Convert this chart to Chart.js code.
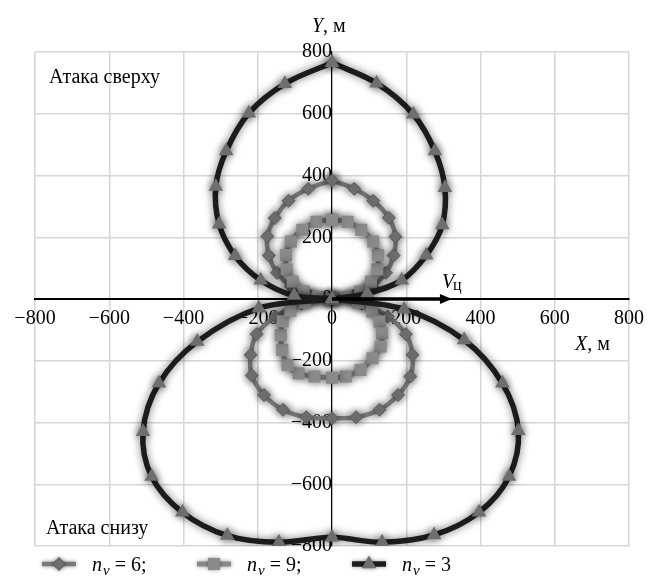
<!DOCTYPE html>
<html>
<head>
<meta charset="utf-8">
<script src="https://cdn.jsdelivr.net/npm/chart.js@4.4.1/dist/chart.umd.min.js"></script>
<style>
  html, body { margin: 0; padding: 0; background: #fff; }
  #wrap { width: 649px; height: 576px; }
</style>
</head>
<body>
<div id="wrap"><canvas id="zone" width="649" height="576"></canvas></div>
<script>
// Boundaries of the attack zone (metres). Each curve starts at the top,
// runs down the upper-left half, crosses the origin, goes round the lower
// lobe and climbs back up the upper-right half.
const nv6X = [0, -64, -117, -154, -174, -170, -148, -110, -58, 0, 80, 150, 199, 217, 211, 178, 128, 65, 0,
              -69, -132, -183, -216, -219, -203, -152, -82, 0, 58, 108, 145, 166, 171, 153, 111, 60, 0];
const nv6Y = [384, 357, 318, 262, 203, 141, 85, 40, 10, 0, -15, -57, -114, -181, -251, -311, -359, -383, -386,
              -383, -359, -311, -248, -181, -114, -57, -15, 0, 10, 40, 85, 141, 202, 263, 318, 357, 384];

const nv9X = [0, -42, -80, -111, -124, -122, -106, -76, -38, 0, 70, 108, 128, 135, 131, 109, 77, 37, 0,
              -47, -90, -120, -134, -138, -133, -112, -72, 0, 38, 76, 105, 122, 124, 111, 79, 42, 0];
const nv9Y = [256, 250, 224, 186, 142, 96, 56, 24, 6, 0, -12, -41, -73, -111, -154, -192, -230, -251, -255,
              -251, -241, -214, -165, -117, -72, -38, -12, 0, 6, 24, 56, 96, 142, 186, 224, 250, 256];

const nv3X = [0, -127, -224, -285, -313, -304, -261, -192, -102, 0, 194, 356, 459, 502, 477, 396, 275, 135, 0,
              -143, -282, -403, -486, -509, -466, -363, -197, 0, 95, 188, 254, 297, 304, 277, 219, 120, 0];
const nv3Y = [765, 697, 602, 479, 364, 242, 140, 61, 11, 0, -33, -133, -273, -427, -575, -691, -764, -788, -772,
              -788, -766, -691, -575, -430, -273, -138, -30, 0, 18, 61, 142, 240, 360, 479, 598, 699, 765];

const axisTicks = [-800, -600, -400, -200, 0, 200, 400, 600, 800];
const targetSpeedLength = 323;   // length of the V_ц vector along X

const serif = "'Liberation Serif', 'Times New Roman', serif";

function points(xs, ys) {
    return xs.map((x, i) => ({ x: x, y: ys[i] }));
}

function minusSign(v) {
    return String(v).replace('-', '\u2212');
}

// soft halo around each curve
const halo = {
    id: 'halo',
    beforeDatasetDraw(chart) {
        const ctx = chart.ctx;
        ctx.save();
        ctx.shadowColor = 'rgba(0,0,0,0.55)';
        ctx.shadowBlur = 8;
    },
    afterDatasetDraw(chart) {
        chart.ctx.restore();
    }
};

function marker(ctx, style, x, y, r, fill, stroke) {
    ctx.beginPath();
    if (style === 'triangle') {
        ctx.moveTo(x, y - r);
        ctx.lineTo(x + r * 0.866, y + r * 0.5);
        ctx.lineTo(x - r * 0.866, y + r * 0.5);
    } else if (style === 'rectRot') {
        ctx.moveTo(x, y - r);
        ctx.lineTo(x + r, y);
        ctx.lineTo(x, y + r);
        ctx.lineTo(x - r, y);
    } else {
        const s = r * Math.SQRT1_2;
        ctx.rect(x - s, y - s, 2 * s, 2 * s);
    }
    ctx.closePath();
    ctx.fillStyle = fill;
    ctx.fill();
    if (stroke) {
        ctx.strokeStyle = stroke;
        ctx.lineWidth = 1;
        ctx.stroke();
    }
}

function subscripted(ctx, x, y, main, sub, rest) {
    ctx.font = 'italic 20px ' + serif;
    ctx.fillText(main, x, y);
    x += ctx.measureText(main).width + 1;
    ctx.font = 'italic 15px ' + serif;
    ctx.fillText(sub, x, y + 4);
    x += ctx.measureText(sub).width;
    ctx.font = '20px ' + serif;
    ctx.fillText(rest, x, y);
}

const annotations = {
    id: 'annotations',
    afterDatasetsDraw(chart) {
        const { ctx, chartArea, scales: { x, y } } = chart;
        const x0 = x.getPixelForValue(0);
        const y0 = y.getPixelForValue(0);
        const xTip = x.getPixelForValue(targetSpeedLength);

        ctx.save();
        // target velocity vector
        ctx.strokeStyle = '#000';
        ctx.lineWidth = 3.5;
        ctx.beginPath();
        ctx.moveTo(x0, y0);
        ctx.lineTo(xTip - 8, y0);
        ctx.stroke();
        ctx.fillStyle = '#000';
        ctx.beginPath();
        ctx.moveTo(xTip, y0);
        ctx.lineTo(xTip - 12, y0 - 5);
        ctx.lineTo(xTip - 12, y0 + 5);
        ctx.closePath();
        ctx.fill();

        ctx.textBaseline = 'alphabetic';
        ctx.textAlign = 'left';
        ctx.fillStyle = '#000';

        // V_ц
        ctx.font = 'italic 20px ' + serif;
        ctx.fillText('V', xTip - 10, y0 - 11);
        ctx.font = '16px ' + serif;
        ctx.fillText('ц', xTip + 1, y0 - 9);

        // axis names
        ctx.font = 'italic 20px ' + serif;
        ctx.fillText('Y', x0 - 20, chartArea.top - 20);
        let w = ctx.measureText('Y').width;
        ctx.font = '20px ' + serif;
        ctx.fillText(', м', x0 - 20 + w, chartArea.top - 20);

        ctx.font = 'italic 20px ' + serif;
        ctx.fillText('X', 575, y0 + 51);
        w = ctx.measureText('X').width;
        ctx.font = '20px ' + serif;
        ctx.fillText(', м', 575 + w, y0 + 51);

        // zone captions
        ctx.fillText('Атака сверху', chartArea.left + 14, chartArea.top + 31);
        ctx.fillText('Атака снизу', chartArea.left + 11, chartArea.bottom - 12);

        // legend row
        const ly = 564;
        const labels = ['6;', '9;', '3'];
        chart.data.datasets.forEach((ds, i) => {
            const lx = 42 + i * 155;
            ctx.save();
            ctx.shadowColor = 'rgba(0,0,0,0.4)';
            ctx.shadowBlur = 4;
            ctx.strokeStyle = ds.borderColor;
            ctx.lineWidth = ds.borderWidth;
            ctx.beginPath();
            ctx.moveTo(lx, ly);
            ctx.lineTo(lx + 34, ly);
            ctx.stroke();
            marker(ctx, ds.pointStyle, lx + 17, ly, ds.pointRadius, ds.pointBackgroundColor, ds.pointBorderWidth ? ds.pointBorderColor : null);
            ctx.restore();
            ctx.fillStyle = '#000';
            subscripted(ctx, lx + 50, ly + 7, 'n', 'v', ' = ' + labels[i]);
        });
        ctx.restore();
    }
};

new Chart(document.getElementById('zone'), {
    type: 'scatter',
    data: {
        datasets: [{
            label: 'n_v = 6',
            data: points(nv6X, nv6Y),
            showLine: true,
            tension: 0.35,
            borderColor: '#7a7a7a',
            borderWidth: 4.5,
            pointStyle: 'rectRot',
            pointRadius: 6.5,
            pointBackgroundColor: '#737373',
            pointBorderColor: '#5a5a5a',
            pointBorderWidth: 1,
            order: 3
        }, {
            label: 'n_v = 9',
            data: points(nv9X, nv9Y),
            showLine: true,
            tension: 0.35,
            borderColor: '#8a8a8a',
            borderWidth: 5,
            pointStyle: 'rect',
            pointRadius: 8.5,
            pointBackgroundColor: '#8a8a8a',
            pointBorderColor: '#8a8a8a',
            pointBorderWidth: 0,
            order: 2
        }, {
            label: 'n_v = 3',
            data: points(nv3X, nv3Y),
            showLine: true,
            tension: 0.35,
            borderColor: '#1c1c1c',
            borderWidth: 5.5,
            pointStyle: 'triangle',
            pointRadius: 8.5,
            pointBackgroundColor: '#6e6e6e',
            pointBorderColor: '#6e6e6e',
            pointBorderWidth: 0,
            order: 1
        }]
    },
    options: {
        responsive: false,
        animation: false,
        events: [],
        layout: { padding: { left: 35, top: 52, right: 20, bottom: 30 } },
        plugins: {
            legend: { display: false },
            tooltip: { enabled: false }
        },
        scales: {
            x: {
                type: 'linear',
                position: { y: 0 },
                min: -800,
                max: 800,
                afterBuildTicks: s => { s.ticks = axisTicks.map(v => ({ value: v })); },
                // end labels may hang over the frame, so no extra side padding
                afterFit: s => { s.paddingLeft = 0; s.paddingRight = 0; },
                grid: { color: '#d6d6d6', lineWidth: 1.5, drawTicks: false },
                border: { color: '#000', width: 2 },
                ticks: {
                    autoSkip: false,
                    maxRotation: 0,
                    padding: 8,
                    color: '#000',
                    font: { family: serif, size: 20 },
                    callback: v => minusSign(v)
                }
            },
            y: {
                type: 'linear',
                position: { x: 0 },
                min: -800,
                max: 800,
                afterBuildTicks: s => { s.ticks = axisTicks.map(v => ({ value: v })); },
                afterFit: s => { s.paddingTop = 0; s.paddingBottom = 0; },
                grid: { color: '#d6d6d6', lineWidth: 1.5, drawTicks: false },
                border: { color: '#000', width: 1.2 },
                ticks: {
                    autoSkip: false,
                    padding: 12,
                    color: '#000',
                    font: { family: serif, size: 20 },
                    callback: v => minusSign(v)
                }
            }
        }
    },
    plugins: [halo, annotations]
});
</script>
</body>
</html>
